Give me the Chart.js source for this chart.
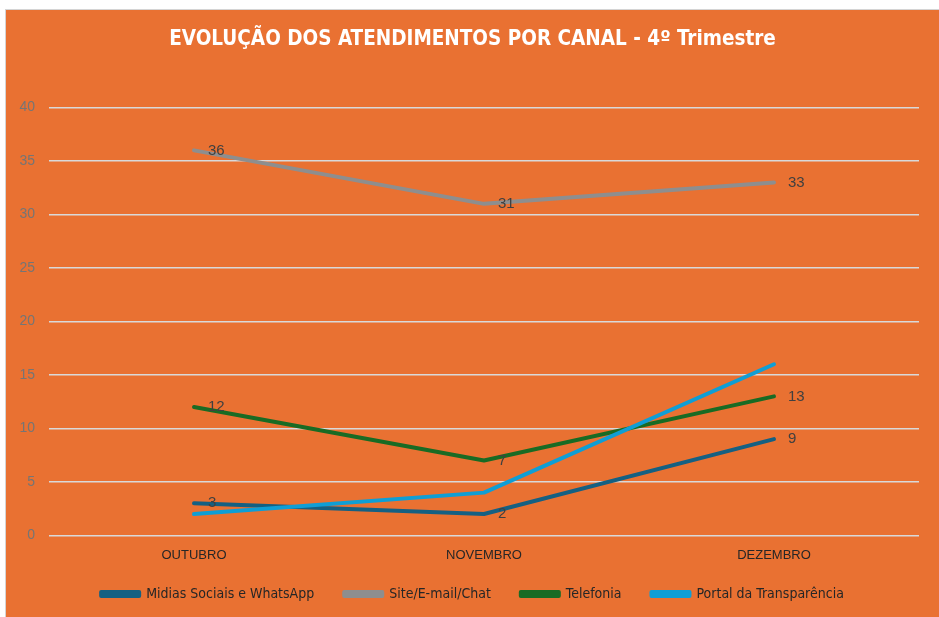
<!DOCTYPE html>
<html>
<head>
<meta charset="utf-8">
<script src="https://cdn.jsdelivr.net/npm/chart.js@4.4.1/dist/chart.umd.min.js"></script>
<style>
  html, body { margin: 0; padding: 0; background: #ffffff; }
  #box {
    position: absolute; left: 5px; top: 9px; width: 934px; height: 608px;
    background: #E97132; border-left: 1px solid #d4d4d4; border-top: 1px solid #d4d4d4;
  }
  #chart { position: absolute; left: 0; top: 0; }
</style>
</head>
<body>
<div id="box"><canvas id="chart" width="933" height="607"></canvas></div>
<script>
// Dados
var meses = ['OUTUBRO', 'NOVEMBRO', 'DEZEMBRO'];
var midias = [3, 2, 9];
var site = [36, 31, 33];
var telefonia = [12, 7, 13];
var portal = [2, 4, 16];
var yTicks = [0, 5, 10, 15, 20, 25, 30, 35, 40];

var narrow = "'Liberation Sans Narrow', 'DejaVu Sans Condensed', sans-serif";
var regular = "'Liberation Sans', Arial, sans-serif";
var legendShift = 10;

// rótulos de dados à direita dos pontos
var rotulos = {
    id: 'rotulos',
    afterDatasetsDraw: function(chart) {
        var ctx = chart.ctx;
        ctx.save();
        ctx.font = '15px ' + regular;
        ctx.fillStyle = '#404040';
        ctx.textAlign = 'left';
        ctx.textBaseline = 'middle';
        chart.data.datasets.forEach(function(ds, i) {
            if (!ds.showLabels) return;
            chart.getDatasetMeta(i).data.forEach(function(pt, j) {
                ctx.fillText(ds.data[j], pt.x + 14, pt.y);
            });
        });
        ctx.restore();
    }
};

// legenda com menos espaço vertical, mesmo espaçamento horizontal
var legendaCompacta = {
    id: 'legendaCompacta',
    beforeLayout: function(chart) {
        var lg = chart.legend;
        if (lg && !lg._compacta) {
            var fit = lg.fit;
            lg.fit = function() {
                fit.call(this);
                this.height -= legendShift;
            };
            lg._compacta = true;
        }
    },
    afterLayout: function(chart) {
        var lg = chart.legend;
        if (lg) {
            lg.top -= legendShift;
        }
    }
};

var ctx = document.getElementById('chart');
var myChart = new Chart(ctx, {
    type: 'line',
    data: {
        labels: meses,
        datasets: [{
            label: 'Midias Sociais e WhatsApp',
            data: midias,
            borderColor: '#156082',
            backgroundColor: '#156082',
            showLabels: true,
            order: 4
        }, {
            label: 'Site/E-mail/Chat',
            data: site,
            borderColor: '#8E8E8E',
            backgroundColor: '#8E8E8E',
            showLabels: true,
            order: 3
        }, {
            label: 'Telefonia',
            data: telefonia,
            borderColor: '#196B24',
            backgroundColor: '#196B24',
            showLabels: true,
            order: 2
        }, {
            label: 'Portal da Transparência',
            data: portal,
            borderColor: '#0F9ED5',
            backgroundColor: '#0F9ED5',
            showLabels: false,
            order: 1
        }]
    },
    options: {
        responsive: false,
        animation: false,
        layout: { padding: { left: 0, right: 0, top: 0, bottom: 6 } },
        elements: {
            line: { borderWidth: 4, tension: 0, borderCapStyle: 'round', borderJoinStyle: 'round' },
            point: { radius: 0, hoverRadius: 0 }
        },
        plugins: {
            title: {
                display: true,
                text: 'EVOLUÇÃO DOS ATENDIMENTOS POR CANAL - 4º Trimestre',
                color: '#ffffff',
                font: { family: narrow, size: 20.5, weight: 'bold' },
                padding: { top: 17, bottom: 56 }
            },
            legend: {
                position: 'bottom',
                labels: {
                    color: '#262626',
                    font: { family: narrow, size: 14 },
                    boxWidth: 38,
                    boxHeight: 4,
                    padding: 30,
                    sort: function(a, b) { return a.datasetIndex - b.datasetIndex; }
                }
            },
            tooltip: { enabled: false }
        },
        scales: {
            x: {
                offset: true,
                grid: { display: false },
                border: { display: false },
                ticks: { color: '#262626', font: { family: regular, size: 13 }, padding: 4 }
            },
            y: {
                min: 0,
                max: 40,
                afterFit: function(scale) { scale.width = 43; },
                afterBuildTicks: function(scale) {
                    scale.ticks = yTicks.map(function(v) { return { value: v }; });
                },
                grid: { color: '#D9D9D9', lineWidth: 1.5, drawTicks: false },
                border: { display: false },
                ticks: { color: '#757575', font: { family: regular, size: 14 }, padding: 14 }
            },
            margem: {
                position: 'right',
                afterFit: function(scale) { scale.width = 20; },
                grid: { display: false },
                border: { display: false },
                ticks: { display: false }
            }
        }
    },
    plugins: [rotulos, legendaCompacta]
});
</script>
</body>
</html>
